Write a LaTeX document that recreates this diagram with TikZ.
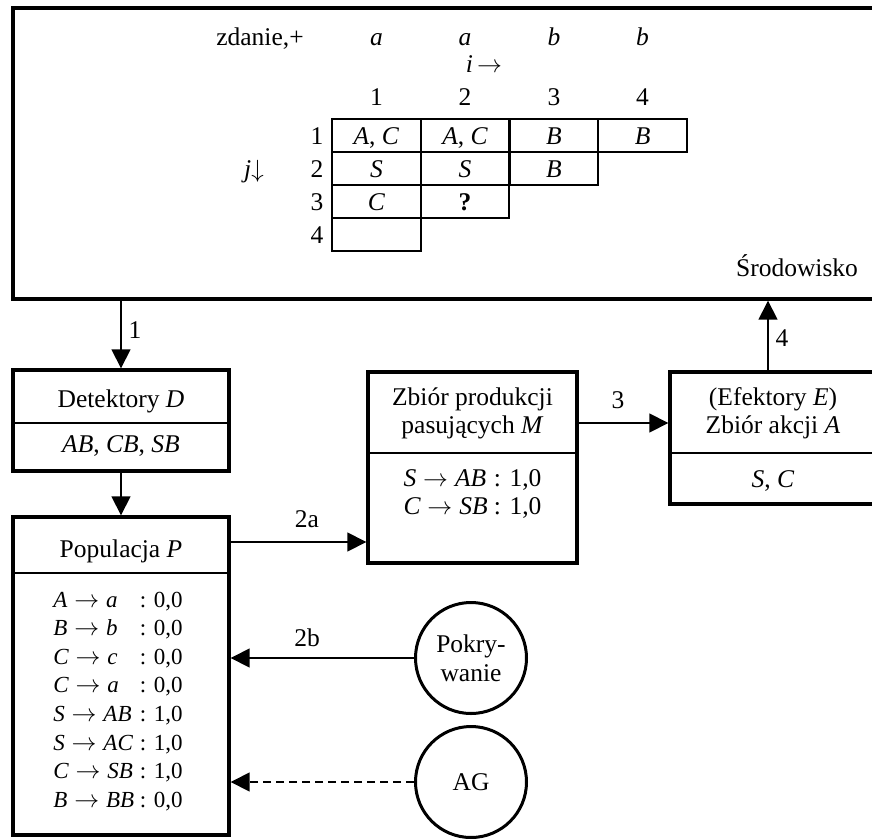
\documentclass[tikz,border=0pt]{standalone}
\usepackage{fontspec}
\setmainfont{Liberation Serif}
\usetikzlibrary{arrows.meta}
% production rule: left side -> right side, italic symbols
\newcommand\prd[2]{$\textit{#1}\rightarrow\textit{#2}$}
\begin{document}
\begin{tikzpicture}[x=1pt,y=-1pt,
  every node/.style={font=\fontsize{25.5}{28.6}\selectfont, inner sep=0pt},
  frame/.style={draw, rectangle, line width=3.4pt, inner sep=0pt},
  sep/.style={line width=1.6pt},
  cell/.style={draw, rectangle, line width=2pt, minimum width=88.75pt, minimum height=33pt,
               text height=17pt, text depth=0pt},
  rowlab/.style={text height=17pt, text depth=0pt},
  conn/.style={line width=1.6pt, -{Triangle[length=19pt,width=19pt]}},
  tag/.style={anchor=base},
  ring/.style={draw, circle, line width=3pt, minimum size=111pt, align=center}
]
\useasboundingbox (0,0) rectangle (872,838);
\clip (0,0) rectangle (872,838);

% environment frame with the parsing table
\node[frame, minimum width=872pt, minimum height=291pt] (env) at (449,153.5) {};
\node[tag] (zd) at (260,45) {zdanie,+};
\node[tag] (w1) at (376.4,45) {\textit{a}};
\node[tag] (w2) at (465.1,45) {\textit{a}};
\node[tag] (w3) at (553.9,45) {\textit{b}};
\node[tag] (w4) at (642.6,45) {\textit{b}};
\node[tag] (iarr) at (484,72) {\textit{i}\,$\rightarrow$};
\node[tag] (k1) at (376.4,105) {1};
\node[tag] (k2) at (465.1,105) {2};
\node[tag] (k3) at (553.9,105) {3};
\node[tag] (k4) at (642.6,105) {4};
\node[rowlab] (r1) at (317,135.5) {1};
\node[rowlab] (r2) at (317,168.5) {2};
\node[rowlab] (r3) at (317,201.5) {3};
\node[rowlab] (r4) at (317,234.5) {4};
\node[rowlab] (jarr) at (254,168.5) {\textit{j}$\downarrow$};

\node[cell] (c11) at (376.4,135.5) {\textit{A}, \textit{C}};
\node[cell] (c12) at (465.1,135.5) {\textit{A}, \textit{C}};
\node[cell] (c13) at (553.9,135.5) {\textit{B}};
\node[cell] (c14) at (642.6,135.5) {\textit{B}};
\node[cell] (c21) at (376.4,168.5) {\textit{S}};
\node[cell] (c22) at (465.1,168.5) {\textit{S}};
\node[cell] (c23) at (553.9,168.5) {\textit{B}};
\node[cell] (c31) at (376.4,201.5) {\textit{C}};
\node[cell] (c32) at (465.1,201.5) {\textbf{?}};
\node[cell] (c41) at (376.4,234.5) {};

\node[tag] (srod) at (797,276) {Środowisko};

% detectors
\node[frame, minimum width=216pt, minimum height=101pt] (D) at (121,420.5) {};
\coordinate (dD) at (0,423);
\draw[sep] (D.west |- dD) -- (D.east |- dD);
\node[tag] (Dt) at (121,407) {Detektory \textit{D}};
\node[tag] (Dc) at (121,452) {\textit{AB}, \textit{CB}, \textit{SB}};

% population
\node[frame, minimum width=216pt, minimum height=318pt] (P) at (121,676) {};
\coordinate (dP) at (0,573);
\draw[sep] (P.west |- dP) -- (P.east |- dP);
\node[tag] (Pt) at (121,557) {Populacja \textit{P}};
\node[anchor=base, font=\fontsize{23}{28.6}\selectfont] (Pl) at (118,607) {\begin{tabular}[t]{@{}l@{ }l@{}}
\prd{A}{a} & : 0,0\\
\prd{B}{b} & : 0,0\\
\prd{C}{c} & : 0,0\\
\prd{C}{a} & : 0,0\\
\prd{S}{AB} & : 1,0\\
\prd{S}{AC} & : 1,0\\
\prd{C}{SB} & : 1,0\\
\prd{B}{BB} & : 0,0
\end{tabular}};

% matching productions
\node[frame, minimum width=209pt, minimum height=191pt] (M) at (472.5,467.5) {};
\coordinate (dM) at (0,453);
\draw[sep] (M.west |- dM) -- (M.east |- dM);
\node[tag] (Mt1) at (472.5,405) {Zbiór produkcji};
\node[tag] (Mt2) at (472.5,433) {pasujących \textit{M}};
\node[anchor=base] (Ml) at (472.5,486) {\begin{tabular}[t]{@{}l@{ }l@{}}
\prd{S}{AB} & : 1,0\\
\prd{C}{SB} & : 1,0
\end{tabular}};

% effectors
\node[frame, minimum width=206pt, minimum height=132pt] (E) at (773,438) {};
\coordinate (dE) at (0,453);
\draw[sep] (E.west |- dE) -- (E.east |- dE);
\node[tag] (Et1) at (773,405) {(Efektory \textit{E})};
\node[tag] (Et2) at (773,433) {Zbiór akcji \textit{A}};
\node[tag] (Ec) at (773,487) {\textit{S}, \textit{C}};

% operators
\node[ring] (Pok) at (471,658) {Pokry-\\wanie};
\node[ring] (AG) at (471,782) {AG};

% connectors
\draw[conn] (env.south -| D.north) -- (D.north);
\draw[conn] (D.south) -- (P.north);
\coordinate (a2) at (0,542);
\draw[conn] (P.east |- a2) -- (M.west |- a2);
\coordinate (a3) at (0,423);
\draw[conn] (M.east |- a3) -- (E.west |- a3);
\coordinate (a4) at (768,0);
\draw[conn] (E.north -| a4) -- (env.south -| a4);
\draw[conn] (Pok.west) -- (P.east |- Pok.west);
\draw[conn, dash pattern=on 8pt off 5pt] (AG.west) -- (P.east |- AG.west);

% step labels
\node[tag] (l1) at (135,338) {1};
\node[tag] (l2a) at (307,527) {2a};
\node[tag] (l3) at (618,408) {3};
\node[tag] (l4) at (782,346) {4};
\node[tag] (l2b) at (307,646) {2b};
\end{tikzpicture}
\end{document}
